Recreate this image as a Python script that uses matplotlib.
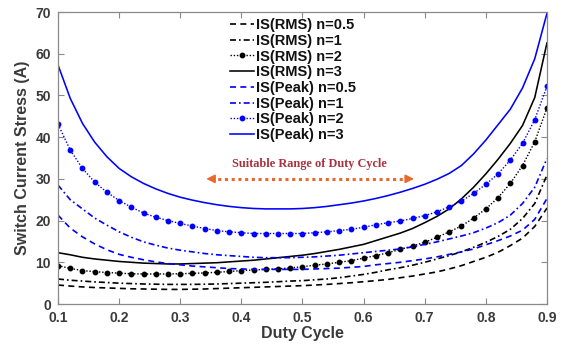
import numpy as np
import matplotlib
matplotlib.use("Agg")
import matplotlib.pyplot as plt

plt.rcParams['font.family'] = ['Liberation Sans', 'DejaVu Sans']

duty = np.round(np.arange(0.10, 0.9001, 0.02), 2)

rms_05 = [4.55, 4.3, 4.1, 3.95, 3.85, 3.75, 3.65, 3.6, 3.55, 3.5, 3.5, 3.55, 3.6, 3.7, 3.8,
          3.9, 4.0, 4.1, 4.2, 4.3, 4.4, 4.55, 4.7, 4.9, 5.1, 5.35, 5.6, 5.9, 6.3, 6.7,
          7.2, 7.7, 8.4, 9.2, 10.2, 11.2, 12.4, 14.0, 15.8, 18.6, 23.0]
rms_1 = [6.0, 5.7, 5.5, 5.3, 5.15, 5.0, 4.9, 4.8, 4.75, 4.7, 4.7, 4.7, 4.75, 4.8, 4.9,
         5.0, 5.1, 5.2, 5.35, 5.5, 5.6, 5.8, 6.0, 6.3, 6.7, 7.1, 7.6, 8.2, 8.7, 9.3,
         10.0, 10.8, 11.6, 12.5, 13.6, 14.8, 16.2, 17.9, 20.5, 24.1, 30.9]
rms_2 = [9.2, 8.55, 8.0, 7.75, 7.55, 7.4, 7.25, 7.2, 7.2, 7.2, 7.25, 7.35, 7.45, 7.6, 7.8,
         8.0, 8.15, 8.3, 8.45, 8.65, 8.95, 9.3, 9.6, 10.0, 10.4, 11.0, 11.6, 12.3, 13.1, 13.9,
         14.8, 16.0, 17.3, 18.7, 20.6, 22.8, 25.5, 28.9, 33.2, 38.9, 47.0]
rms_3 = [12.3, 11.8, 11.2, 10.8, 10.5, 10.2, 10.0, 9.8, 9.7, 9.6, 9.6, 9.7, 9.8, 9.9, 10.1,
         10.3, 10.5, 10.8, 11.1, 11.4, 11.7, 12.1, 12.6, 13.1, 13.7, 14.3, 15.2, 16.1, 17.0, 18.1,
         19.5, 21.0, 22.8, 25.2, 28.0, 31.2, 34.7, 38.5, 42.8, 49.5, 62.6]
peak_05 = [21.3, 18.2, 16.1, 14.4, 13.0, 11.9, 11.2, 10.6, 10.1, 9.7, 9.4, 9.1, 8.9, 8.7, 8.5,
           8.4, 8.3, 8.3, 8.3, 8.3, 8.3, 8.4, 8.5, 8.6, 8.8, 9.0, 9.4, 9.7, 10.0, 10.4,
           10.8, 11.3, 11.9, 12.5, 13.2, 14.2, 15.2, 16.3, 17.7, 20.3, 25.3]
peak_1 = [28.5, 25.0, 22.8, 20.6, 18.9, 17.3, 16.0, 14.9, 14.1, 13.4, 12.9, 12.5, 12.1, 11.8, 11.6,
          11.4, 11.2, 11.1, 11.1, 11.1, 11.2, 11.3, 11.5, 11.7, 12.0, 12.3, 12.6, 12.9, 13.2, 13.7,
          14.3, 14.9, 15.6, 16.3, 17.1, 18.2, 19.5, 21.3, 24.1, 28.0, 34.9]
peak_2 = [43.1, 36.9, 32.5, 29.2, 26.8, 24.8, 23.2, 21.8, 20.8, 20.0, 19.3, 18.7, 18.1, 17.6, 17.3,
          17.1, 16.9, 16.9, 16.9, 16.9, 16.9, 17.1, 17.3, 17.6, 17.9, 18.4, 19.0, 19.5, 19.9, 20.5,
          21.2, 22.1, 23.3, 24.7, 26.5, 28.7, 31.2, 34.5, 38.5, 44.2, 52.2]
peak_3 = [57.3, 49.3, 43.3, 38.8, 35.3, 32.5, 30.5, 28.9, 27.6, 26.5, 25.6, 24.9, 24.3, 23.8, 23.4,
          23.1, 22.9, 22.8, 22.8, 22.8, 22.9, 23.1, 23.4, 23.8, 24.2, 24.7, 25.3, 26.0, 26.8, 27.7,
          28.7, 29.9, 31.3, 33.2, 36.0, 39.3, 43.0, 46.7, 51.8, 58.8, 69.7]

labels = ['IS(RMS) n=0.5', 'IS(RMS) n=1', 'IS(RMS) n=2', 'IS(RMS) n=3',
          'IS(Peak) n=0.5', 'IS(Peak) n=1', 'IS(Peak) n=2', 'IS(Peak) n=3']
xticks = [0.1, 0.2, 0.3, 0.4, 0.5, 0.6, 0.7, 0.8, 0.9]
yticks = [0, 10, 20, 30, 40, 50, 60, 70]

fig = plt.figure(figsize=(5.66, 3.47), dpi=100)
ax = fig.add_axes([0.1025, 0.1239, 0.8639, 0.8415])

series = [rms_05, rms_1, rms_2, rms_3, peak_05, peak_1, peak_2, peak_3]
dashed = (0, (3.6, 2.6))
dashdot = (0, (3.6, 1.8, 1.0, 1.8))
dotted = (0, (1, 1.3))
styles = [
    dict(color='black', ls=dashed, lw=1.2),
    dict(color='black', ls=dashdot, lw=1.2),
    dict(color='black', ls=dotted, lw=1.0, marker='o', ms=3.2),
    dict(color='black', ls='-', lw=1.15),
    dict(color='#0000FF', ls=dashed, lw=1.2),
    dict(color='#0000FF', ls=dashdot, lw=1.2),
    dict(color='#0000FF', ls=dotted, lw=1.0, marker='o', ms=3.2),
    dict(color='#0000FF', ls='-', lw=1.15),
]
for ys, lab, st in zip(series, labels, styles):
    ax.plot(duty, ys, label=lab, **st)

ax.set_xlim(0.1, 0.9)
ax.set_ylim(0, 70)
ax.set_xticks(xticks)
ax.set_yticks(yticks)
ax.set_xticklabels([f'{t:g}' for t in xticks])
tc = '#3a3a3a'
ax.tick_params(direction='in', top=True, right=True, length=4, width=0.8,
               color='#8a8a8a', labelsize=10, labelcolor=tc)
ax.tick_params(axis='x', pad=5)
ax.tick_params(axis='y', pad=5)
for lbl in ax.get_xticklabels() + ax.get_yticklabels():
    lbl.set_fontweight('bold')
for s in ax.spines.values():
    s.set_color('#8a8a8a')
    s.set_linewidth(0.9)

ax.set_xlabel('Duty Cycle', fontsize=11.5, fontweight='bold', color=tc, labelpad=1)
ax.set_ylabel('Switch Current Stress (A)', fontsize=11.5, fontweight='bold', color=tc, labelpad=4)

leg = ax.legend(loc='upper left', bbox_to_anchor=(230.0 / 566, 1 - 18.0 / 347),
                bbox_transform=fig.transFigure, frameon=False, fontsize=10.5,
                handlelength=1.65, handletextpad=0.15, labelspacing=0.12,
                borderpad=0, borderaxespad=0, numpoints=1)
for t in leg.get_texts():
    t.set_fontweight('bold')
    t.set_color('#111111')

# annotation
orange = '#E8692A'
ax.plot([0.35, 0.675], [30, 30], ls=(0, (1, 1.2)), color=orange, lw=2.2)
ax.annotate('', xy=(0.338, 30), xytext=(0.36, 30),
            arrowprops=dict(arrowstyle='-|>,head_length=0.5,head_width=0.25', color=orange, lw=1.2))
ax.annotate('', xy=(0.687, 30), xytext=(0.665, 30),
            arrowprops=dict(arrowstyle='-|>,head_length=0.5,head_width=0.25', color=orange, lw=1.2))
ax.text(0.511, 33.6, 'Suitable Range of Duty Cycle', family='Liberation Serif',
        fontweight='bold', fontsize=8.8, color='#A8323E', ha='center', va='center')

fig.savefig('out.png', dpi=100)
